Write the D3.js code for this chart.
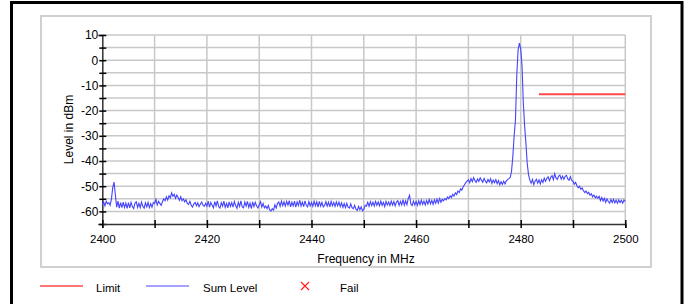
<!DOCTYPE html>
<html>
<head>
<meta charset="utf-8">
<script src="https://cdn.jsdelivr.net/npm/d3@7"></script>
<style>
  body { margin: 0; background: #fff; }
  text { font-family: "Liberation Sans", Arial, sans-serif; fill: #000; }
</style>
</head>
<body>
<script>
// sweep settings (MHz)
var sweepStart = 2400
var sweepStep = 0.25

// measured level in dBm, one value per sweep point (2400 ... 2500)
var sumLevel = [
  -57.5, -56.2, -57.8, -56.0, -57.0, -56.5, -57.6, -55.0, -50.5, -48.4, -53.5, -58.3, -55.9, -58.7, -56.5, -58.5, -56.3, -58.4, -56.7, -58.8,
  -56.5, -58.6, -56.4, -58.1, -58.9, -56.7, -56.2, -58.4, -56.8, -58.5, -56.3, -58.0, -58.7, -56.6, -58.2, -56.4, -58.5, -56.9, -58.3, -56.5,
  -56.8, -55.2, -57.5, -56.0, -56.8, -57.6, -56.2, -55.0, -55.8, -54.2, -55.5, -53.8, -54.6, -52.6, -54.0, -53.2, -54.8, -53.5, -54.5, -55.6,
  -54.2, -55.8, -55.0, -56.2, -55.4, -56.8, -57.2, -56.0, -57.6, -58.3, -57.0, -56.5, -57.8, -56.6, -58.1, -57.2, -56.3, -57.5, -58.0, -56.8,
  -57.9, -55.9, -58.3, -56.4, -57.6, -58.6, -56.1, -57.8, -55.8, -58.1, -58.7, -56.5, -57.9, -55.9, -58.4, -56.8, -58.6, -56.2, -58.0, -56.5,
  -58.3, -56.0, -57.7, -58.8, -56.4, -58.0, -55.8, -58.2, -58.6, -56.3, -57.9, -56.0, -58.4, -56.7, -58.9, -56.2, -58.1, -56.4, -57.8, -58.6,
  -57.5, -56.1, -58.3, -56.9, -58.6, -57.9, -58.9, -57.6, -59.4, -59.8, -58.9, -59.5, -57.4, -58.7, -56.8, -56.3, -58.0, -55.9, -57.7, -56.2,
  -57.9, -56.0, -57.5, -55.7, -58.2, -56.4, -57.8, -55.9, -58.3, -56.2, -57.7, -55.5, -57.9, -56.3, -58.1, -55.8, -57.6, -58.2, -56.1, -57.8,
  -56.4, -58.0, -55.9, -57.8, -56.2, -58.3, -56.0, -57.9, -56.4, -58.2, -57.6, -56.1, -57.9, -56.3, -58.2, -56.0, -57.8, -56.4, -58.0, -56.2,
  -57.8, -56.3, -58.1, -56.6, -58.4, -56.9, -58.5, -56.8, -58.3, -58.7, -57.0, -58.5, -58.9, -57.6, -59.1, -59.6, -58.0, -59.4, -58.2, -59.8,
  -59.2, -57.6, -57.9, -56.4, -58.0, -56.1, -57.7, -56.3, -57.9, -56.0, -57.6, -56.2, -57.8, -55.9, -57.6, -56.4, -58.1, -56.0, -57.5, -56.3,
  -57.7, -55.9, -57.5, -56.1, -57.8, -56.3, -55.7, -57.6, -56.0, -57.4, -55.3, -57.5, -55.8, -57.3, -54.8, -53.6, -57.1, -57.7, -55.9, -57.4,
  -56.0, -57.6, -55.8, -57.3, -55.5, -57.2, -55.9, -57.4, -55.7, -57.1, -55.3, -57.0, -55.6, -57.2, -55.4, -56.8, -55.1, -56.7, -54.9, -56.4,
  -55.2, -55.8, -54.9, -55.4, -54.3, -54.9, -53.8, -54.5, -53.2, -53.9, -52.6, -53.3, -51.9, -52.5, -51.0, -51.6, -50.2, -49.4, -48.6, -48.0,
  -47.4, -48.6, -47.0, -48.2, -46.6, -47.8, -48.5, -47.1, -48.1, -46.7, -47.6, -48.4, -46.9, -48.0, -48.7, -47.3, -48.3, -47.0, -48.9, -47.6,
  -48.6, -47.4, -49.0, -47.8, -49.5, -48.2, -49.3, -48.0, -49.1, -47.9, -47.4, -47.0, -46.5, -44.0, -38.0, -30.0, -23.5, -6.0, 4.0, 6.8,
  4.5, -2.0, -17.0, -26.0, -33.0, -41.0, -45.5, -47.6, -48.8, -47.3, -49.4, -48.0, -47.2, -48.8, -47.5, -49.1, -47.4, -48.5, -46.8, -48.1,
  -46.9, -46.3, -47.8, -46.5, -45.8, -47.4, -45.0, -46.7, -47.3, -46.0, -45.6, -47.2, -46.0, -47.3, -46.1, -45.7, -47.1, -47.6, -46.2, -47.7,
  -48.0, -49.2, -48.5, -49.8, -50.6, -50.0, -51.2, -50.7, -51.8, -52.5, -51.9, -53.0, -52.4, -53.6, -53.0, -54.2, -53.5, -54.6, -54.0, -54.8,
  -54.0, -55.7, -54.5, -55.9, -54.8, -56.4, -55.0, -56.1, -56.7, -55.3, -56.5, -55.2, -56.6, -55.5, -56.8, -55.4, -56.5, -55.6, -56.7, -55.5,
  -56.0
]

// limit line
var limitFreq = [2483.5, 2500]
var limitLevel = [-13.5, -13.5]

var xTicks = [2400, 2410, 2420, 2430, 2440, 2450, 2460, 2470, 2480, 2490, 2500]
var xLabels = [2400, 2420, 2440, 2460, 2480, 2500]
var yTicks = [-65, -60, -55, -50, -45, -40, -35, -30, -25, -20, -15, -10, -5, 0, 5, 10]
var yLabels = [-60, -50, -40, -30, -20, -10, 0, 10]

var legendItems = ["Limit", "Sum Level", "Fail"]

var width = 688
var height = 304

var margin = { top: 35, right: 62.7, bottom: 80, left: 102.3 }

var data = sumLevel.map((value, index) => {
    return { x: sweepStart + index * sweepStep, y: value }
})

var scaleFreq = d3.scaleLinear()
    .domain([2400, 2500])
    .range([margin.left, width - margin.right])

var scaleLevel = d3.scaleLinear()
    .domain([-65, 10])
    .range([height - margin.bottom, margin.top])

var svg = d3.select("body")
    .append("svg")
    .attr("width", width)
    .attr("height", height)

// outer frame and inner panel
svg.append("rect")
    .attr("x", 11.5).attr("y", 2.5)
    .attr("width", 670.5).attr("height", 320)
    .attr("fill", "none").attr("stroke", "#000").attr("stroke-width", 3)

svg.append("rect")
    .attr("x", 41).attr("y", 16)
    .attr("width", 610).attr("height", 251)
    .attr("fill", "none").attr("stroke", "#d0d0d0").attr("stroke-width", 2)

// grid
svg.append("g")
    .selectAll("line")
    .data(yTicks.filter(d => d > -65))
    .join("line")
    .attr("x1", margin.left).attr("x2", width - margin.right)
    .attr("y1", d => scaleLevel(d)).attr("y2", d => scaleLevel(d))
    .attr("stroke", "#c8c8c8").attr("stroke-width", 1.5)

svg.append("g")
    .selectAll("line")
    .data(xTicks.filter(d => d > 2400))
    .join("line")
    .attr("x1", d => scaleFreq(d)).attr("x2", d => scaleFreq(d))
    .attr("y1", margin.top).attr("y2", height - margin.bottom)
    .attr("stroke", "#c8c8c8").attr("stroke-width", 1.5)

// axes
var ejeY = d3.axisLeft(scaleLevel)
    .tickValues(yTicks)
    .tickSize(4)
    .tickFormat(d => yLabels.includes(d) ? d : "")
var gy = svg.append("g")
    .attr("transform", "translate(" + margin.left + ",0)")
    .call(ejeY)
gy.selectAll(".tick line").attr("x1", 4).attr("x2", -3).attr("stroke", "#000").attr("stroke-width", 1.5)
gy.select(".domain").attr("stroke", "#333").attr("stroke-width", 1.5)
gy.selectAll(".tick text").attr("x", -4).style("font-size", "12px").style("font-family", "Liberation Sans, Arial, sans-serif")

var ejeX = d3.axisBottom(scaleFreq)
    .tickValues(xTicks)
    .tickSize(4)
    .tickFormat(d => xLabels.includes(d) ? d : "")
var gx = svg.append("g")
    .attr("transform", "translate(0," + (height - margin.bottom) + ")")
    .call(ejeX)
gx.selectAll(".tick line").attr("y1", -4).attr("y2", 4).attr("stroke", "#000").attr("stroke-width", 1.5)
gx.select(".domain").attr("stroke", "#333").attr("stroke-width", 1.5)
gx.selectAll(".tick text").attr("y", 11).style("font-size", "11.5px").style("font-family", "Liberation Sans, Arial, sans-serif")

// axis titles
svg.append("text")
    .attr("x", 366).attr("y", 263)
    .attr("text-anchor", "middle")
    .style("font-size", "12px")
    .text("Frequency in MHz")

svg.append("text")
    .attr("transform", "translate(73," + ((margin.top + height - margin.bottom) / 2) + ") rotate(-90)")
    .attr("text-anchor", "middle")
    .style("font-size", "12px")
    .text("Level in dBm")

// traces
const lineGenerator = d3.line()
    .x(function (d) { return scaleFreq(d.x) })
    .y(function (d) { return scaleLevel(d.y) })

svg.append("path")
    .attr("d", lineGenerator(data))
    .attr("stroke", "#4444ff")
    .attr("stroke-width", 1.1)
    .attr("fill", "none")

var limitData = limitFreq.map((f, i) => ({ x: f, y: limitLevel[i] }))
svg.append("path")
    .attr("d", lineGenerator(limitData))
    .attr("stroke", "#ff4848")
    .attr("stroke-width", 2)
    .attr("fill", "none")

// legend
var legendY = 286
svg.append("line")
    .attr("x1", 40).attr("x2", 83).attr("y1", legendY).attr("y2", legendY)
    .attr("stroke", "#ff4848").attr("stroke-width", 1.5)
svg.append("line")
    .attr("x1", 146).attr("x2", 189).attr("y1", legendY).attr("y2", legendY)
    .attr("stroke", "#4848ff").attr("stroke-width", 1)
svg.append("path")
    .attr("d", "M301,282L309,290M309,282L301,290")
    .attr("stroke", "#ff2020").attr("stroke-width", 1.2)

var legendX = [96, 203, 340]
svg.append("g")
    .selectAll("text")
    .data(legendItems)
    .join("text")
    .attr("x", (d, i) => legendX[i])
    .attr("y", legendY + 6)
    .style("font-size", "11.5px")
    .text(d => d)
</script>
</body>
</html>
